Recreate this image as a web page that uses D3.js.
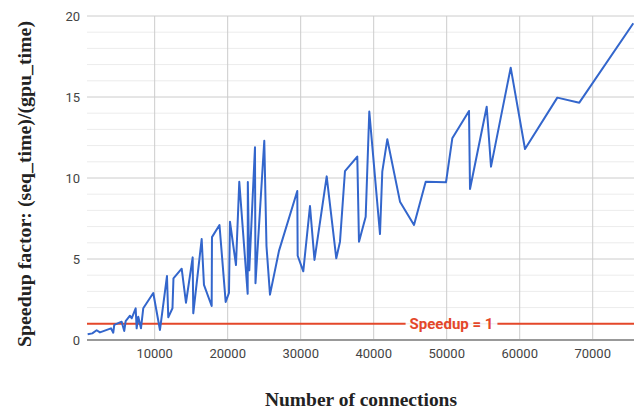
<!DOCTYPE html>
<html><head><meta charset="utf-8">
<script src="https://cdn.jsdelivr.net/npm/d3@7"></script>
<style>
html,body{margin:0;padding:0;background:#fff;}
svg{display:block;}
</style></head>
<body>
<svg id="chart" width="634" height="410"></svg>
<script>
const connections = [822,1452,2055,2507,4014,4329,4466,5479,5836,6027,6616,6849,7397,7534,7753,8123,8438,9808,10726,11685,11863,12438,12575,13699,14288,15205,15288,16438,16753,17808,17850,18877,19726,20178,20315,21137,21589,22740,22760,22959,23740,23808,25014,25315,25795,27027,29534,29589,30356,31274,31890,33562,34877,35384,36068,37753,37986,38904,39397,40863,41178,41863,43603,45521,47123,49904,50767,53055,53192,55479,56068,58767,60726,65151,68164,75562];
const speedup = [0.35,0.41,0.6,0.47,0.72,0.45,0.93,1.13,0.56,1.17,1.5,1.34,1.95,0.72,1.44,0.72,1.96,2.9,0.62,3.95,1.4,1.96,3.81,4.4,2.3,5.1,1.65,6.23,3.4,2.1,6.35,7.1,2.35,2.9,7.3,4.63,9.77,2.85,9.75,4.3,11.9,3.5,12.3,5.8,2.8,5.5,9.2,5.2,4.24,8.27,4.94,10.1,5.04,6.07,10.43,11.32,6.07,7.61,14.1,6.54,10.39,12.39,8.54,7.1,9.77,9.73,12.45,14.14,9.32,14.4,10.7,16.81,11.79,14.96,14.65,19.55];
const xTicks = [10000,20000,30000,40000,50000,60000,70000];
const yTicks = [0,5,10,15,20];
const yMinorTicks = [1,2,3,4,6,7,8,9,11,12,13,14,16,17,18,19];
const referenceValue = 1;
const referenceLabel = "Speedup = 1";
const xTitle = "Number of connections";
const yTitle = "Speedup factor:  (seq_time)/(gpu_time)";

const svg = d3.select("#chart");
const x = d3.scaleLinear().domain([800, 75600]).range([87.5, 633.6]);
const y = d3.scaleLinear().domain([0, 20]).range([340, 16]);
const left = 87, right = 634;

// minor gridlines
svg.append("g").selectAll("line").data(yMinorTicks).join("line")
  .attr("x1", left).attr("x2", right)
  .attr("y1", d => y(d)).attr("y2", d => y(d))
  .attr("stroke", "#ececec").attr("stroke-width", 1);
// major horizontal gridlines
svg.append("g").selectAll("line").data(yTicks.filter(d => d > 0)).join("line")
  .attr("x1", left).attr("x2", right)
  .attr("y1", d => y(d)).attr("y2", d => y(d))
  .attr("stroke", "#cccccc").attr("stroke-width", 1);
// vertical gridlines
svg.append("g").selectAll("line").data(xTicks).join("line")
  .attr("x1", d => x(d)).attr("x2", d => x(d))
  .attr("y1", y(20)).attr("y2", y(0))
  .attr("stroke", "#cccccc").attr("stroke-width", 1);

// y tick labels
svg.append("g").selectAll("text").data(yTicks).join("text")
  .attr("x", 80).attr("y", d => y(d) + 5)
  .attr("text-anchor", "end")
  .attr("font-family", "Roboto, Arial, sans-serif").attr("font-size", 13)
  .attr("fill", "#444").text(d => d);
// x tick labels
svg.append("g").selectAll("text").data(xTicks).join("text")
  .attr("x", d => x(d)).attr("y", 358)
  .attr("text-anchor", "middle")
  .attr("font-family", "Roboto, Arial, sans-serif").attr("font-size", 13)
  .attr("fill", "#444").text(d => d);

// reference line with label gap
const ry = y(referenceValue);
const labelCx = 451.5;
const refG = svg.append("g");
const lbl = refG.append("text")
  .attr("x", labelCx).attr("y", ry + 5)
  .attr("text-anchor", "middle")
  .attr("font-family", "Roboto, Arial, sans-serif").attr("font-size", 15).attr("font-weight", "bold")
  .attr("fill", "#e4472a").text(referenceLabel);
const bb = lbl.node().getBBox();
refG.append("line").attr("x1", left).attr("x2", bb.x - 4).attr("y1", ry).attr("y2", ry)
  .attr("stroke", "#e4472a").attr("stroke-width", 2);
refG.append("line").attr("x1", bb.x + bb.width + 4).attr("x2", right).attr("y1", ry).attr("y2", ry)
  .attr("stroke", "#e4472a").attr("stroke-width", 2);

// baseline
svg.append("line").attr("x1", left).attr("x2", right).attr("y1", y(0)).attr("y2", y(0))
  .attr("stroke", "#999").attr("stroke-width", 2);

// data line
const line = d3.line().x((d, i) => x(connections[i])).y(d => y(d));
svg.append("path").datum(speedup)
  .attr("d", line).attr("fill", "none")
  .attr("stroke", "#3366cc").attr("stroke-width", 2).attr("stroke-linejoin", "round");

// axis titles
svg.append("text")
  .attr("transform", "translate(31,184) rotate(-90)")
  .attr("text-anchor", "middle")
  .attr("font-family", "'Liberation Serif', 'DejaVu Serif', serif").attr("font-size", 18).attr("font-weight", "bold")
  .attr("textLength", 326).attr("lengthAdjust", "spacingAndGlyphs")
  .attr("fill", "#222").text(yTitle);
svg.append("text")
  .attr("x", 361).attr("y", 406)
  .attr("text-anchor", "middle")
  .attr("font-family", "'Liberation Serif', 'DejaVu Serif', serif").attr("font-size", 18).attr("font-weight", "bold")
  .attr("textLength", 192).attr("lengthAdjust", "spacingAndGlyphs")
  .attr("fill", "#222").text(xTitle);
</script>
</body></html>
